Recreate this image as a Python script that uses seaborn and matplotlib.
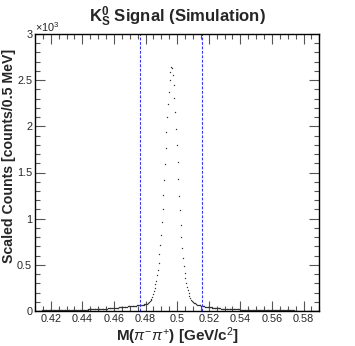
import numpy as np
import pandas as pd
import matplotlib
matplotlib.use("Agg")
import matplotlib.pyplot as plt
from matplotlib.ticker import MultipleLocator, FixedLocator, FixedFormatter
import seaborn as sns

# ---- data (counts per 0.5 MeV bin) ----
hist_low = 0.41
bin_width = 0.0005
counts = [
    5, 5, 5, 5, 5, 5, 5, 5, 6, 6,
    6, 6, 6, 6, 6, 6, 6, 7, 7, 7,
    7, 7, 7, 7, 7, 8, 8, 8, 8, 8,
    8, 8, 9, 9, 9, 9, 9, 9, 10, 10,
    10, 10, 10, 11, 11, 11, 11, 11, 12, 12,
    12, 12, 12, 13, 13, 13, 13, 14, 14, 14,
    14, 15, 15, 15, 16, 16, 16, 17, 17, 17,
    18, 18, 18, 19, 19, 20, 20, 20, 21, 21,
    22, 22, 23, 23, 24, 24, 25, 25, 26, 26,
    27, 27, 28, 28, 29, 30, 30, 31, 32, 32,
    33, 34, 35, 35, 36, 37, 38, 39, 40, 41,
    42, 43, 44, 45, 46, 47, 48, 49, 50, 50,
    51, 52, 53, 54, 55, 56, 57, 58, 59, 60,
    61, 62, 63, 64, 65, 66, 67, 69, 71, 74,
    77, 81, 86, 92, 99, 107, 118, 132, 150, 181,
    217, 252, 292, 328, 390, 444, 520, 614, 711, 823,
    967, 1101, 1256, 1419, 1589, 1762, 1939, 2098, 2245, 2375,
    2499, 2588, 2646, 2629, 2556, 2451, 2304, 2155, 1971, 1798,
    1614, 1433, 1245, 1097, 931, 805, 679, 577, 487, 415,
    354, 300, 263, 224, 192, 162, 137, 121, 109, 100,
    93, 87, 82, 77, 73, 70, 67, 64, 62, 60,
    58, 56, 54, 52, 50, 48, 47, 45, 44, 43,
    41, 40, 39, 38, 37, 36, 35, 34, 33, 32,
    31, 30, 29, 29, 28, 27, 27, 26, 25, 25,
    24, 24, 23, 23, 22, 22, 21, 21, 20, 20,
    19, 19, 19, 18, 18, 18, 17, 17, 17, 16,
    16, 16, 15, 15, 15, 15, 14, 14, 14, 14,
    13, 13, 13, 13, 12, 12, 12, 12, 12, 11,
    11, 11, 11, 11, 11, 10, 10, 10, 10, 10,
    10, 9, 9, 9, 9, 9, 9, 9, 8, 8,
    8, 8, 8, 8, 8, 8, 7, 7, 7, 7,
    7, 7, 7, 7, 7, 7, 6, 6, 6, 6,
    6, 6, 6, 6, 6, 6, 6, 6, 5, 5,
    5, 5, 5, 5, 5, 5, 5, 5, 5, 5,
    5, 5, 4, 4, 4, 4, 4, 4, 4, 4,
    4, 4, 4, 4, 4, 4, 4, 4, 4, 4,
]
window_edges = [0.4767, 0.5158]
x_ticks = [0.42, 0.44, 0.46, 0.48, 0.50, 0.52, 0.54, 0.56, 0.58]
x_ticklabels = ["0.42", "0.44", "0.46", "0.48", "0.5", "0.52", "0.54", "0.56", "0.58"]
y_ticks = [0, 500, 1000, 1500, 2000, 2500, 3000]
y_ticklabels = ["0", "0.5", "1", "1.5", "2", "2.5", "3"]

mass = hist_low + bin_width * (np.arange(len(counts)) + 0.5)
df = pd.DataFrame({"mass": mass, "counts": counts})

sns.set_style("ticks")
plt.rcParams["font.family"] = ["Liberation Sans", "DejaVu Sans"]
plt.rcParams["mathtext.fontset"] = "custom"
plt.rcParams["mathtext.rm"] = "Liberation Sans"
plt.rcParams["mathtext.bf"] = "Liberation Sans:bold"
plt.rcParams["mathtext.it"] = "Liberation Sans:italic"

fig = plt.figure(figsize=(3.55, 3.46), dpi=100)
ax = fig.add_axes([35 / 355, 1 - 311 / 346, 284.3 / 355, 277 / 346])

sns.scatterplot(data=df, x="mass", y="counts", ax=ax, color="#333333",
                marker="o", s=1.0, linewidth=0, legend=False)

for xe in window_edges:
    ax.axvline(xe, color="#3333ff", linestyle=(0, (2.5, 1.5)), linewidth=0.8)

ax.set_xlim(0.41, 0.59)
ax.set_ylim(0, 3000)

ax.xaxis.set_major_locator(FixedLocator(x_ticks))
ax.xaxis.set_major_formatter(FixedFormatter(x_ticklabels))
ax.xaxis.set_minor_locator(MultipleLocator(0.005))
ax.yaxis.set_major_locator(FixedLocator(y_ticks))
ax.yaxis.set_major_formatter(FixedFormatter(y_ticklabels))
ax.yaxis.set_minor_locator(MultipleLocator(100))

ax.tick_params(which="both", direction="in", top=True, right=True,
               width=0.8, color="#555555", labelsize=7.8, pad=2.0)
ax.tick_params(axis="x", which="major", length=7)
ax.tick_params(axis="x", which="minor", length=3.5)
ax.tick_params(axis="y", which="major", length=7)
ax.tick_params(axis="y", which="minor", length=3.5)
for sp in ax.spines.values():
    sp.set_linewidth(1.0)
    sp.set_color("black")

ax.text(0.0, 1.0, r"$\times$10$^{3}$", transform=ax.transAxes, fontsize=7.8,
        ha="left", va="bottom", color="#222222")

ax.set_xlabel(r"M($\pi^{-}\pi^{+}$) [GeV/c$^{2}$]", fontsize=11,
              fontweight="bold", labelpad=1)
ax.set_ylabel("Scaled Counts [counts/0.5 MeV]", fontsize=10.2,
              fontweight="bold")
ax.yaxis.set_label_coords(-0.068, 0.56)
ax.set_title(r"$\mathbf{K^{0}_{S}}$ Signal (Simulation)", fontsize=12,
             fontweight="bold", pad=9)

fig.savefig("out.png", dpi=100)
